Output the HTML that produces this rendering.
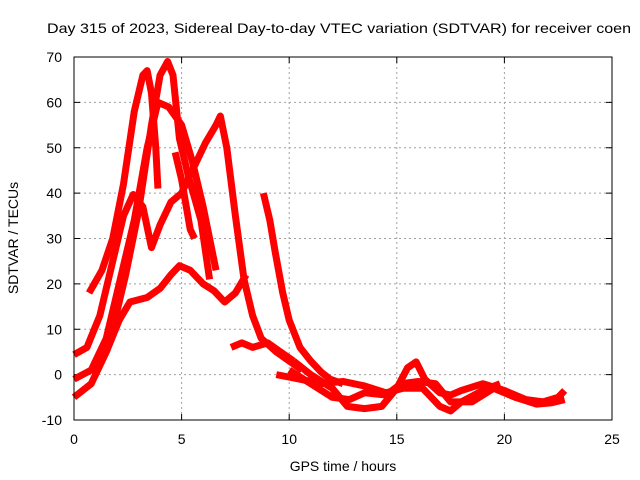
<!DOCTYPE html>
<html><head><meta charset="utf-8"><style>
html,body{margin:0;padding:0;background:#fff;}
svg{display:block;font-family:"Liberation Sans",sans-serif;}
</style></head><body>
<svg id="chart" width="640" height="480" viewBox="0 0 640 480">
<rect x="0" y="0" width="640" height="480" fill="#fff"/>
<text x="47" y="33" font-size="14" textLength="584" lengthAdjust="spacingAndGlyphs">Day 315 of 2023, Sidereal Day-to-day VTEC variation (SDTVAR) for receiver coen</text>
<g id="grid"></g>
<g id="ticks"></g>
<g id="series"></g>
<rect x="74" y="57" width="538" height="363" fill="none" stroke="#000" stroke-width="1"/>
<text x="343" y="471" font-size="14" text-anchor="middle">GPS time / hours</text>
<text transform="translate(18,238) rotate(-90)" font-size="14" text-anchor="middle">SDTVAR / TECUs</text>
</svg>
<script>
const xTicks = [0, 5, 10, 15, 20, 25];
const yTicks = [-10, 0, 10, 20, 30, 40, 50, 60, 70];
const arcA = [[0,4.4],[0.6,6],[1.2,13],[1.8,25],[2.3,35],[2.75,39.7],[3.2,37],[3.6,28],[4,33],[4.5,38],[5,40],[5.5,45],[6.1,51],[6.6,55],[6.8,57],[7.1,50],[7.5,35],[7.9,21],[8.3,13],[8.7,8],[9.4,5],[10,3],[10.6,1]];
const arcB = [[0.7,18],[1.3,23],[1.8,30],[2.3,42],[2.8,58],[3.2,66],[3.4,67],[3.6,62],[3.8,50],[3.9,41]];
const arcC = [[1.2,3],[1.8,10],[2.4,22],[3,36],[3.6,55],[4,66],[4.35,69],[4.6,66],[4.9,52],[5.3,44],[5.9,34],[6.3,21]];
const arcD = [[0,-1],[0.8,1],[1.5,8],[2.2,22],[2.8,34],[3.4,50],[3.9,60],[4.4,59],[5,55],[5.5,47],[6,37],[6.6,23]];
const arcE = [[0,-5],[0.8,-2],[1.5,5],[2.1,12],[2.6,16],[3.4,17],[4,19],[4.5,22],[4.9,24],[5.4,23],[6,20],[6.5,18.5],[7,16],[7.5,18],[8,22]];
const arcF = [[4.7,49],[5,43],[5.4,32],[5.6,30]];
const arcG = [[8.8,40],[9.1,34],[9.35,27],[9.7,18],[10,12],[10.5,6],[11,3],[11.5,0.5],[11.9,-1],[12.5,-2]];
const arcH = [[7.3,6],[7.8,7],[8.3,6],[9,7],[9.6,5],[10.2,3]];
const arcL1 = [[10.2,3],[11,0],[12,-3],[12.7,-7],[13.5,-7.5],[14.3,-7],[15,-3],[15.5,1.5],[15.9,2.8],[16.3,-1],[17,-4],[17.5,-4.5],[18,-3.5],[19,-2],[20,-3.5],[21,-5.5],[21.8,-6],[22.5,-5],[22.8,-3.5]];
const arcL2 = [[10,1],[11,-2],[12,-5],[12.8,-5.5],[13.5,-4],[14.5,-4.5],[15.2,-2],[16,-1.5],[16.8,-2],[17.5,-6],[18.5,-6],[19.5,-3],[20.5,-5],[21.5,-6.5],[22.2,-6.2],[22.8,-5.5]];
const arcL3 = [[9.4,0],[10.5,-1],[11.5,-2],[12.5,-1.5],[13.5,-2.5],[14.5,-4],[15.3,-3],[16.2,-3],[17,-7],[17.5,-8],[18,-6],[19,-3.5],[19.8,-2]];
const arcs = [arcA, arcB, arcC, arcD, arcE, arcF, arcG, arcH, arcL1, arcL2, arcL3];

const NS = "http://www.w3.org/2000/svg";
const L = 74, R = 612, T = 57, B = 420;
function xs(v){ return L + (v - 0) / 25 * (R - L); }
function ys(v){ return B - (v + 10) / 80 * (B - T); }
const grid = document.getElementById('grid');
const ticks = document.getElementById('ticks');
xTicks.forEach(t => {
  const x = xs(t);
  if (t > 0 && t < 25) {
    const g = document.createElementNS(NS, 'line');
    g.setAttribute('x1', x); g.setAttribute('x2', x); g.setAttribute('y1', T); g.setAttribute('y2', B);
    g.setAttribute('stroke', '#a0a0a0'); g.setAttribute('stroke-dasharray', '2,3');
    
    
    grid.appendChild(g);
  }
  const tk = document.createElementNS(NS, 'path');
  tk.setAttribute('d', `M${x},${B}v-6M${x},${T}v6`); tk.setAttribute('stroke', '#000');
  
  
  ticks.appendChild(tk);
  const lb = document.createElementNS(NS, 'text');
  lb.setAttribute('x', x); lb.setAttribute('y', B + 24); lb.setAttribute('font-size', '14'); lb.setAttribute('text-anchor', 'middle');
  lb.textContent = t;
  
  
  ticks.appendChild(lb);
});
yTicks.forEach(t => {
  const y = ys(t);
  if (t > -10 && t < 70) {
    const g = document.createElementNS(NS, 'line');
    g.setAttribute('x1', L); g.setAttribute('x2', R); g.setAttribute('y1', y); g.setAttribute('y2', y);
    g.setAttribute('stroke', '#a0a0a0'); g.setAttribute('stroke-dasharray', '2,3');
    
    
    grid.appendChild(g);
  }
  const tk = document.createElementNS(NS, 'path');
  tk.setAttribute('d', `M${L},${y}h6M${R},${y}h-6`); tk.setAttribute('stroke', '#000');
  
  
  ticks.appendChild(tk);
  const lb = document.createElementNS(NS, 'text');
  lb.setAttribute('x', L - 12); lb.setAttribute('y', y + 5); lb.setAttribute('font-size', '14'); lb.setAttribute('text-anchor', 'end');
  lb.textContent = t;
  
  
  ticks.appendChild(lb);
});
const series = document.getElementById('series');
arcs.forEach((arc, i) => {
  const p = document.createElementNS(NS, 'polyline');
  p.setAttribute('points', arc.map(d => xs(d[0]) + ',' + ys(d[1])).join(' '));
  p.setAttribute('fill', 'none'); p.setAttribute('stroke', '#ff0000'); p.setAttribute('stroke-width', '7');
  p.setAttribute('stroke-linejoin', 'round'); p.setAttribute('stroke-linecap', 'butt');
  
  
  series.appendChild(p);
});
</script>
</body></html>
